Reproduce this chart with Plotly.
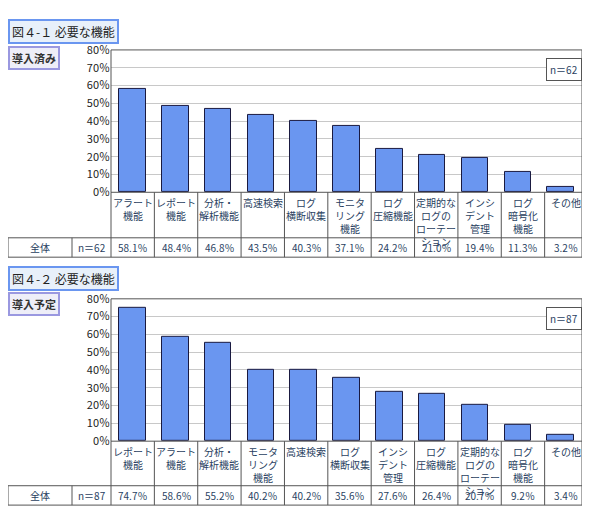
import plotly.graph_objects as go

W, H = 590, 523
OFF = 8  # page body margin
FW, FH = W - 2 * OFF, H - 2 * OFF

cats1 = ["アラート<br>機能", "レポート<br>機能", "分析・<br>解析機能", "高速検索", "ログ<br>横断収集",
         "モニタ<br>リング<br>機能", "ログ<br>圧縮機能", "定期的な<br>ログの<br>ローテー<br>ション",
         "インシ<br>デント<br>管理", "ログ<br>暗号化<br>機能", "その他"]
vals1 = [58.1, 48.4, 46.8, 43.5, 40.3, 37.1, 24.2, 21.0, 19.4, 11.3, 3.2]
n1 = 62

cats2 = ["レポート<br>機能", "アラート<br>機能", "分析・<br>解析機能", "モニタ<br>リング<br>機能", "高速検索",
         "ログ<br>横断収集", "インシ<br>デント<br>管理", "ログ<br>圧縮機能", "定期的な<br>ログの<br>ローテー<br>ション",
         "ログ<br>暗号化<br>機能", "その他"]
vals2 = [74.7, 58.6, 55.2, 40.2, 40.2, 35.6, 27.6, 26.4, 20.7, 9.2, 3.4]
n2 = 87

yticks = [0, 10, 20, 30, 40, 50, 60, 70, 80]
BAR = "#6a96f0"
FONT = "Noto Sans CJK JP"
LS = 10  # label font size

def py(p):
    return min(1, max(0, 1 - (p - OFF) / FH))

def px(p):
    return min(1, max(0, (p - OFF) / FW))

X0, X1 = 111, 588
colw = (X1 - X0) / 11

fig = go.Figure()
shapes, ann = [], []

panels = [
    dict(cats=cats1, vals=vals1, n=n1, title="図４-１ 必要な機能", sub="導入済み",
         ttop=10, stop=38, top=42, bot=189, lab=236, tab=256, xa="x", ya="y"),
    dict(cats=cats2, vals=vals2, n=n2, title="図４-２ 必要な機能", sub="導入予定",
         ttop=265, stop=292, top=299, bot=446, lab=492, tab=512, xa="x2", ya="y2"),
]

for i, p in enumerate(panels):
    fig.add_trace(go.Bar(x=list(range(11)), y=p["vals"], width=0.62,
                         marker=dict(color=BAR, line=dict(color="#1a1a40", width=1)),
                         xaxis=p["xa"], yaxis=p["ya"], showlegend=False, hoverinfo="skip"))
    sfx = "" if i == 0 else "2"
    fig.layout["xaxis" + sfx] = dict(domain=[px(X0), px(X1)], range=[-0.5, 10.5], showticklabels=False,
                                     showgrid=False, zeroline=False, anchor="y" + sfx,
                                     showline=False, fixedrange=True)
    fig.layout["yaxis" + sfx] = dict(domain=[py(p["bot"]), py(p["top"])], range=[0, 80], tickvals=yticks,
                                     ticktext=[f"{v}％" for v in yticks], showgrid=True,
                                     gridcolor="#c8c8c8", zeroline=False, anchor="x" + sfx,
                                     tickfont=dict(size=11, color="#222", family=FONT), ticks="",
                                     showline=False)
    shapes.append(dict(type="rect", xref="paper", yref="paper", x0=px(X0), x1=px(X1),
                       y0=py(p["bot"]), y1=py(p["top"]), line=dict(color="#555", width=1)))
    shapes.append(dict(type="line", xref="paper", yref="paper", x0=px(X0), x1=px(X0),
                       y0=py(p["tab"]), y1=py(p["bot"]), line=dict(color="#555", width=1)))
    for k in range(1, 12):
        xx = X0 + k * colw
        shapes.append(dict(type="line", xref="paper", yref="paper", x0=px(xx), x1=px(xx),
                           y0=py(p["tab"]), y1=py(p["bot"]), line=dict(color="#555", width=1)))
    for yy in (p["lab"], p["tab"]):
        shapes.append(dict(type="line", xref="paper", yref="paper", x0=px(0), x1=px(X1),
                           y0=py(yy), y1=py(yy), line=dict(color="#555", width=1)))
    for xx in (OFF, 72):
        shapes.append(dict(type="line", xref="paper", yref="paper", x0=px(xx), x1=px(xx),
                           y0=py(p["tab"]), y1=py(p["lab"]), line=dict(color="#555", width=1)))
    rowy = py((p["lab"] + p["tab"]) / 2)
    ann.append(dict(x=px(40), y=rowy, text="全体", showarrow=False, xref="paper", yref="paper",
                    xanchor="center", yanchor="middle", font=dict(size=LS, family=FONT)))
    ann.append(dict(x=px(92), y=rowy, text=f"n＝{p['n']}", showarrow=False, xref="paper", yref="paper",
                    xanchor="center", yanchor="middle", font=dict(size=LS, family=FONT)))
    for k, (c, v) in enumerate(zip(p["cats"], p["vals"])):
        cx = px(X0 + (k + 0.5) * colw)
        ann.append(dict(x=cx, y=py(p["bot"] + 1), text=c, showarrow=False, xref="paper", yref="paper",
                        xanchor="center", yanchor="top", font=dict(size=LS, family=FONT),
                        align="center"))
        ann.append(dict(x=cx, y=rowy, text=f"{v:.1f}％", showarrow=False, xref="paper", yref="paper",
                        xanchor="center", yanchor="middle", font=dict(size=LS, family=FONT)))
    ann.append(dict(x=px(583), y=py(p["top"] + 8), text=f"n＝{p['n']}", showarrow=False, xref="paper",
                    yref="paper", xanchor="right", yanchor="top", bgcolor="white", bordercolor="#555",
                    borderwidth=1, borderpad=3, font=dict(size=LS, family=FONT)))
    ann.append(dict(x=px(OFF), y=py(p["ttop"]), text=p["title"], showarrow=False, xref="paper", yref="paper",
                    xanchor="left", yanchor="top", bgcolor="#e8f0fa", bordercolor="#6a96f0",
                    borderwidth=2, borderpad=2, font=dict(size=12, family=FONT, color="#222")))
    ann.append(dict(x=px(OFF), y=py(p["stop"]), text=f"<b>{p['sub']}</b>", showarrow=False, xref="paper",
                    yref="paper", xanchor="left", yanchor="top", bgcolor="#eeeef8", bordercolor="#9a98e0",
                    borderwidth=2, borderpad=2, font=dict(size=11, family=FONT, color="#333")))

fig.update_layout(width=FW, height=FH, margin=dict(l=0, r=0, t=0, b=0), plot_bgcolor="white",
                  paper_bgcolor="white", shapes=shapes, annotations=ann, bargap=0)
fig.write_html("out.html")
